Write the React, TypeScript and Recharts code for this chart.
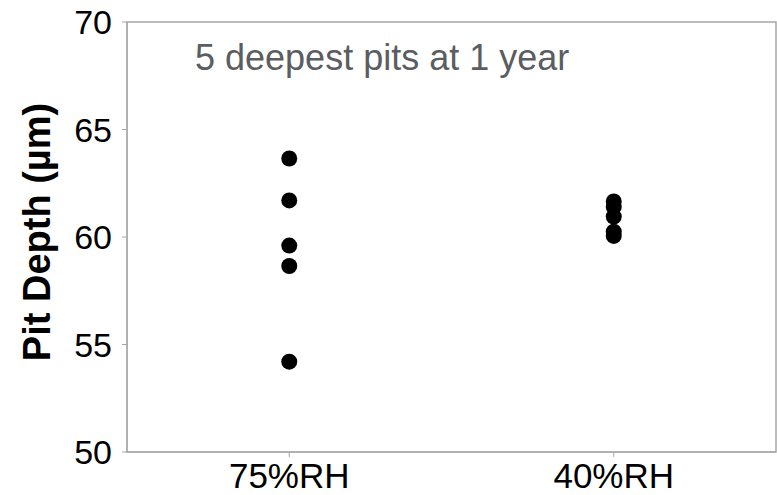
import React from "react"
import { ScatterChart, Scatter, XAxis, YAxis, ReferenceArea } from "recharts"

const categories = ["75%RH", "40%RH"]
const rh75 = [63.65, 61.7, 59.6, 58.65, 54.2]
const rh40 = [61.65, 61.4, 60.95, 60.25, 60.05]
const yTicks = [50, 55, 60, 65, 70]

const data = [
  ...rh75.map((v) => ({ x: 0.5, y: v })),
  ...rh40.map((v) => ({ x: 1.5, y: v })),
]

const font = "'Liberation Sans', Arial, sans-serif"
const axisGray = "#a6a6a6"

const Dot = (props: any) => <circle cx={props.cx} cy={props.cy} r={8} fill="#000" />

export default function App() {
  return (
    <div style={{ position: "absolute", left: 0, top: 0, width: 777, height: 495, background: "#fff" }}>
      <ScatterChart width={777} height={495} margin={{ top: 22, right: 1, bottom: 0, left: 0 }}>
        <ReferenceArea x1={0} x2={2} y1={50} y2={70} fill="none" stroke={axisGray} strokeWidth={1.5} />
        <XAxis
          type="number"
          dataKey="x"
          domain={[0, 2]}
          ticks={[0.5, 1.5]}
          tickFormatter={(v) => categories[Math.floor(v)]}
          height={43}
          tickSize={5}
          tickMargin={6}
          stroke={axisGray}
          tick={{ fill: "#000", fontSize: 35, fontFamily: font }}
        />
        <YAxis
          type="number"
          dataKey="y"
          domain={[50, 70]}
          ticks={yTicks}
          width={127}
          tickSize={5}
          tickMargin={10}
          stroke={axisGray}
          tick={{ fill: "#000", fontSize: 34, fontFamily: font }}
        />
        <Scatter data={data} shape={Dot} isAnimationActive={false} />
        <text x={195} y={70} fontSize={36} fontFamily={font} fill="#5a5d61">
          5 deepest pits at 1 year
        </text>
        <text
          x={50}
          y={232}
          transform="rotate(-90, 50, 232)"
          textAnchor="middle"
          fontSize={38}
          fontWeight="bold"
          fontFamily={font}
          fill="#000"
        >
          Pit Depth (µm)
        </text>
      </ScatterChart>
    </div>
  )
}
